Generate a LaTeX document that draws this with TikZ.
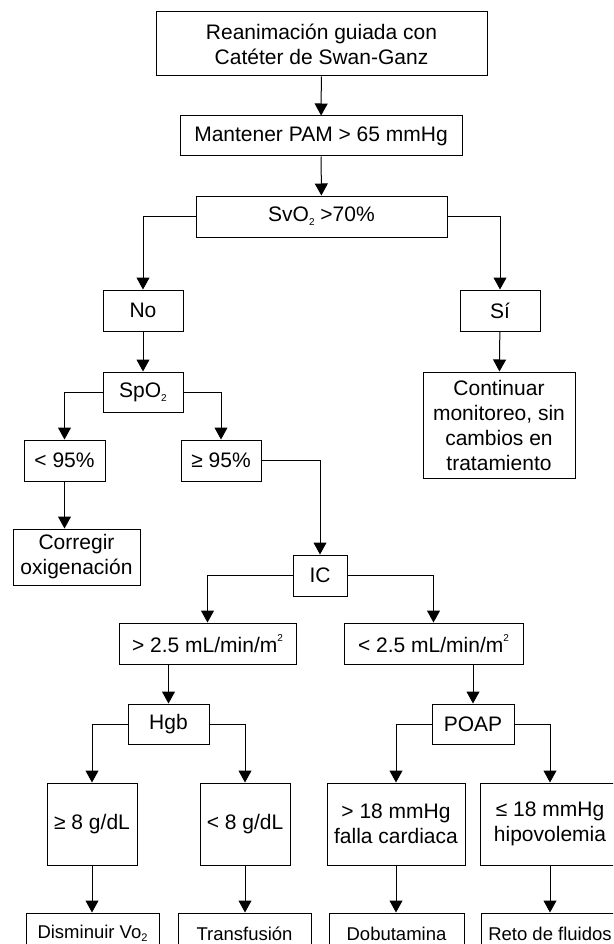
\documentclass[tikz,border=0pt]{standalone}
\usepackage{fontspec}
\setmainfont{Liberation Sans}
\usepackage{tikz}
\usetikzlibrary{arrows.meta,positioning}
\newcommand{\lowtwo}{\raisebox{-0.35ex}{\fontsize{10}{10}\selectfont 2}}
\newcommand{\hightwo}{\raisebox{0.95ex}{\fontsize{10}{10}\selectfont 2}}
\newcommand{\vosub}{\raisebox{-0.35ex}{\fontsize{11}{11}\selectfont 2}}

\begin{document}
\begin{tikzpicture}[x=1pt, y=-1pt,
    every node/.style={font=\fontsize{21}{25}\selectfont},
    box/.style={draw, line width=1pt, inner sep=0pt, align=center},
    leaf/.style={box, font=\fontsize{18.5}{22}\selectfont,
                 minimum height=41pt},
    arr/.style={-{Triangle[length=12pt,width=13pt]}, line width=1pt}]
        \useasboundingbox (0,0) rectangle (613,944);
        \clip (0,0) rectangle (613,944);

        % --- Main column ---
        \node[box, minimum width=331pt, minimum height=64pt] (start) at (321.5,44)
          {Reanimación guiada con\\Catéter de Swan-Ganz};
        \node[box, minimum width=282pt, minimum height=40pt] (pam) at (321,136)
          {Mantener PAM > 65 mmHg};
        \node[box, minimum width=251pt, minimum height=41pt] (svo) at (321.5,216.5)
          {SvO\lowtwo\ >70\%};
        \draw[arr] (start) -- (pam);
        \draw[arr] (pam) -- (svo);

        % --- No / Si ---
        \node[box, minimum width=80pt, minimum height=41pt] (no) at (143,310.5) {No};
        \node[box, minimum width=80pt, minimum height=41pt] (si) at (500,310.5) {Sí};
        \node[box, minimum width=152pt, minimum height=106pt] (cont) at (499,425)
          {Continuar\\monitoreo, sin\\cambios en\\tratamiento};
        \draw[arr] (svo.west) -| (no.north);
        \draw[arr] (svo.east) -| (si.north);
        \draw[arr] (si) -- (cont);

        % --- SpO2 ---
        \node[box, minimum width=80pt, minimum height=40pt] (spo) at (143,392) {SpO\lowtwo};
        \node[box, minimum width=81pt, minimum height=41pt] (spolo) at (64.5,460.5) {< 95\%};
        \node[box, minimum width=80pt, minimum height=41pt] (spohi) at (221,460.5) {≥ 95\%};
        \node[box, minimum width=127pt, minimum height=56pt] (oxi) at (76.5,557)
          {Corregir\\oxigenación};
        \draw[arr] (no) -- (spo);
        \draw[arr] (spo.west) -| (spolo.north);
        \draw[arr] (spo.east) -| (spohi.north);
        \draw[arr] (spolo.south) -- (spolo.south |- oxi.north);

        % --- IC ---
        \node[box, minimum width=54pt, minimum height=41pt] (ic) at (320,575.5) {IC};
        \node[box, minimum width=177pt, minimum height=41pt] (ichi) at (207.5,643.5)
          {> 2.5 mL/min/m\hightwo};
        \node[box, minimum width=179pt, minimum height=41pt] (iclo) at (433.5,643.5)
          {< 2.5 mL/min/m\hightwo};
        \draw[arr] (spohi.east) -| (ic.north);
        \draw[arr] (ic.west) -| (ichi.north);
        \draw[arr] (ic.east) -| (iclo.north);

        % --- Hgb / POAP ---
        \node[box, minimum width=81pt, minimum height=40pt] (hgb) at (168.5,724) {Hgb};
        \node[box, minimum width=82pt, minimum height=40pt] (poap) at (473,724) {POAP};
        \draw[arr] (ichi.south -| hgb.north) -- (hgb.north);
        \draw[arr] (iclo.south -| poap.north) -- (poap.north);

        \node[box, minimum width=90pt, minimum height=82pt] (hgbhi) at (92,824) {≥ 8 g/dL};
        \node[box, minimum width=90pt, minimum height=82pt] (hgblo) at (245,824) {< 8 g/dL};
        \node[box, minimum width=138pt, minimum height=82pt] (poaphi) at (396,824)
          {> 18 mmHg\\falla cardiaca};
        \node[box, minimum width=140pt, minimum height=82pt] (poaplo) at (550,824)
          {≤ 18 mmHg\\hipovolemia};
        \draw[arr] (hgb.west) -| (hgbhi.north);
        \draw[arr] (hgb.east) -| (hgblo.north);
        \draw[arr] (poap.west) -| (poaphi.north);
        \draw[arr] (poap.east) -| (poaplo.north);

        % --- Actions ---
        \node[leaf, minimum width=133pt] (vo) at (92.5,933.5) {Disminuir Vo\vosub};
        \node[leaf, minimum width=133pt] (transf) at (244.5,933.5) {Transfusión};
        \node[leaf, minimum width=135pt] (dobu) at (396.5,933.5) {Dobutamina};
        \node[leaf, minimum width=138pt] (fluid) at (550,933.5) {Reto de fluidos};
        \draw[arr] (hgbhi) -- (hgbhi |- vo.north);
        \draw[arr] (hgblo) -- (hgblo |- transf.north);
        \draw[arr] (poaphi) -- (poaphi |- dobu.north);
        \draw[arr] (poaplo) -- (poaplo |- fluid.north);
      \end{tikzpicture}
\end{document}
